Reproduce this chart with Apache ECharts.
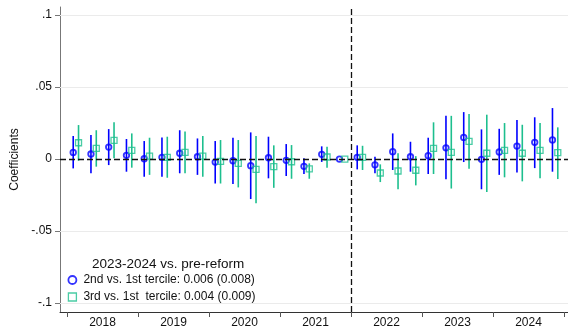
<!DOCTYPE html>
<html>
<head>
<meta charset="utf-8">
<script src="https://cdn.jsdelivr.net/npm/echarts@6/dist/echarts.min.js"></script>
<style>
html,body{margin:0;padding:0;background:#fff;}
#chart{width:568px;height:333px;}
</style>
</head>
<body>
<div id="chart"></div>
<script>
// ---- data ----
const quarters = ['2018Q1','2018Q2','2018Q3','2018Q4','2019Q1','2019Q2','2019Q3','2019Q4',
  '2020Q1','2020Q2','2020Q3','2020Q4','2021Q1','2021Q2','2021Q3','2021Q4',
  '2022Q1','2022Q2','2022Q3','2022Q4','2023Q1','2023Q2','2023Q3','2023Q4',
  '2024Q1','2024Q2','2024Q3','2024Q4'];
const years = ['2018','2019','2020','2021','2022','2023','2024'];
const referenceQuarter = '2021Q4';

// 2nd vs 1st tercile
const b2 = [0.0046,0.0035,0.0083,0.0026,0.0002,0.0012,0.0040,0.0016,
  -0.0021,-0.0012,-0.0046,0.0009,-0.0009,-0.0051,0.0033,0,
  0.0012,-0.0040,0.0051,0.0016,0.0023,0.0078,0.0150,-0.0002,
  0.0049,0.0090,0.0116,0.0133];
const lo2 = [-0.0065,-0.0099,-0.0042,-0.0088,-0.0123,-0.0123,-0.0099,-0.0110,
  -0.0170,-0.0174,-0.0278,-0.0134,-0.0118,-0.0104,-0.0020,null,
  -0.0072,-0.0099,-0.0076,-0.0088,-0.0104,-0.0141,-0.0021,-0.0210,
  -0.0110,-0.0093,-0.0063,-0.0088];
const hi2 = [0.0160,0.0167,0.0208,0.0139,0.0125,0.0150,0.0200,0.0143,
  0.0125,0.0148,0.0185,0.0155,0.0104,0.0005,0.0088,null,
  0.0095,0.0016,0.0178,0.0120,0.0148,0.0300,0.0326,0.0206,
  0.0210,0.0271,0.0290,0.0354];

// 3rd vs 1st tercile
const b3 = [0.0113,0.0074,0.0130,0.0060,0.0020,0.0012,0.0046,0.0020,
  -0.0016,-0.0030,-0.0072,-0.0053,-0.0019,-0.0069,0.0014,0,
  0.0012,-0.0097,-0.0083,-0.0078,0.0074,0.0046,0.0123,0.0040,
  0.0060,0.0040,0.0060,0.0044];
const lo3 = [-0.0012,-0.0053,0.0005,-0.0060,-0.0110,-0.0130,-0.0099,-0.0123,
  -0.0170,-0.0197,-0.0308,-0.0200,-0.0137,-0.0137,-0.0060,null,
  -0.0076,-0.0160,-0.0210,-0.0183,-0.0104,-0.0205,-0.0067,-0.0229,
  -0.0127,-0.0155,-0.0134,-0.0139];
const hi3 = [0.0236,0.0200,0.0255,0.0178,0.0148,0.0155,0.0192,0.0160,
  0.0132,0.0132,0.0160,0.0095,0.0097,-0.0030,0.0085,null,
  0.0092,-0.0037,0.0040,0.0020,0.0255,0.0300,0.0313,0.0308,
  0.0250,0.0238,0.0250,0.0220];

const yTickValues = [-0.1,-0.05,0,0.05,0.1];
const yTickLabels = ['-.1','-.05','0','.05','.1'];
const yGridValues = [-0.1,-0.05,0.05,0.1];

const name2 = '2nd vs. 1st tercile: 0.006 (0.008)';
const name3 = '3rd vs. 1st  tercile: 0.004 (0.009)';
const legendTitle = '2023-2024 vs. pre-reform';

// ---- build ----
const BLUE = '#0000ff';
const GREEN = '#1dbf8e';
const FONT = "'Liberation Sans', Arial, sans-serif";
const off = 0.15;
const refIndex = quarters.indexOf(referenceQuarter);

const pts2 = b2.map((v,i)=>[i+0.5-off, v]);
const pts3 = b3.map((v,i)=>[i+0.5+off, v]);
const ci2 = [], ci3 = [];
quarters.forEach((q,i)=>{
  if (lo2[i] != null) ci2.push([i+0.5-off, lo2[i], hi2[i]]);
  if (lo3[i] != null) ci3.push([i+0.5+off, lo3[i], hi3[i]]);
});
const yearTicks = years.map((y,i)=>i*4).concat([years.length*4]);
const yearLabelPos = years.map((y,i)=>i*4+2);

function ciRender(color){
  return function(params, api){
    const x = api.value(0);
    const p1 = api.coord([x, api.value(1)]);
    const p2 = api.coord([x, api.value(2)]);
    return {type:'line', shape:{x1:p1[0],y1:p1[1],x2:p2[0],y2:p2[1]},
      style:{stroke:color, lineWidth:1.6}};
  };
}

const chart = echarts.init(document.getElementById('chart'), null, {renderer:'canvas'});
chart.setOption({
  animation:false,
  backgroundColor:'#fff',
  textStyle:{fontFamily:FONT},
  grid:{left:60, right:0, top:7, bottom:21, containLabel:false},
  title:{
    text:legendTitle, left:92, top:256, padding:0,
    textStyle:{fontSize:13.5, fontWeight:'normal', color:'#111', fontFamily:FONT, lineHeight:16}
  },
  legend:{
    orient:'vertical', left:61, top:250, padding:[23,4,2,6.5],
    itemWidth:8, itemHeight:8, itemGap:3,
    backgroundColor:'#fff',
    textStyle:{fontSize:12, lineHeight:14, color:'#111', fontFamily:FONT, padding:[0,0,0,2]},
    data:[
      {name:name2, icon:'circle', itemStyle:{color:'transparent', borderColor:BLUE, borderWidth:1.8}},
      {name:name3, icon:'rect', itemStyle:{color:'transparent', borderColor:GREEN, borderWidth:1.3}}
    ]
  },
  xAxis:{
    type:'value', min:-0.394, max:28.225,
    axisLine:{show:true, onZero:false, lineStyle:{color:'#333', width:1}},
    axisTick:{show:true, customValues:yearTicks, length:5, lineStyle:{color:'#555'}},
    axisLabel:{show:true, customValues:yearLabelPos, margin:5, fontSize:12, color:'#111', fontFamily:FONT,
      formatter:v=>years[Math.round((v-2)/4)]},
    splitLine:{show:false}
  },
  yAxis:{
    type:'value', min:-0.10625, max:0.1056,
    name:'Coefficients', nameLocation:'middle', nameGap:38,
    nameTextStyle:{fontSize:12, color:'#111', fontFamily:FONT},
    axisLine:{show:true, onZero:false, lineStyle:{color:'#777', width:1}},
    axisTick:{show:true, customValues:yTickValues, length:5, lineStyle:{color:'#777'}},
    axisLabel:{show:true, customValues:yTickValues, margin:8, fontSize:12, color:'#111', fontFamily:FONT,
      formatter:v=>{const i=yTickValues.findIndex(t=>Math.abs(t-v)<1e-9);return i>=0?yTickLabels[i]:'';}},
    splitLine:{show:false}
  },
  series:[
    {
      type:'line', data:[], z:1, silent:true,
      markLine:{
        silent:true, symbol:'none', label:{show:false}, animation:false,
        data: yGridValues.map(v=>({yAxis:v, lineStyle:{color:'#ebebeb', width:1, type:'solid'}}))
          .concat([
            {yAxis:0, lineStyle:{color:'#111', width:1.3, type:[6,3]}},
            {xAxis:refIndex+1, lineStyle:{color:'#111', width:1.3, type:[6,3]}}
          ])
      }
    },
    {type:'custom', name:name2+' CI', renderItem:ciRender(BLUE), data:ci2, encode:{x:0, y:[1,2]}, z:2, silent:true},
    {type:'custom', name:name3+' CI', renderItem:ciRender(GREEN), data:ci3, encode:{x:0, y:[1,2]}, z:2, silent:true},
    {type:'scatter', name:name2, data:pts2, symbol:'circle', symbolSize:5.5, z:3,
      itemStyle:{color:'transparent', borderColor:BLUE, borderWidth:1.8}},
    {type:'scatter', name:name3, data:pts3, symbol:'rect', symbolSize:6, z:3,
      itemStyle:{color:'transparent', borderColor:GREEN, borderWidth:1.3}}
  ]
});
</script>
</body>
</html>
